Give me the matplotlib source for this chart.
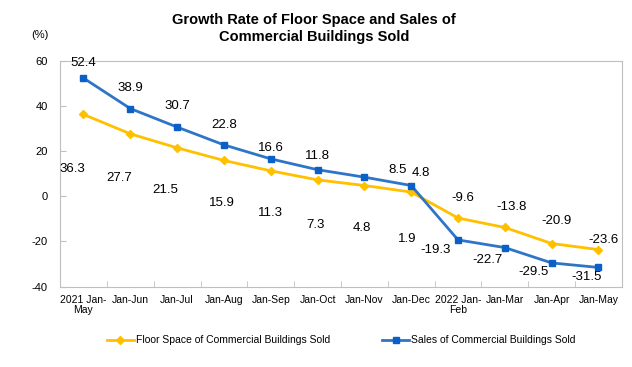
import matplotlib.pyplot as plt
import numpy as np

plt.rcParams['font.family'] = ['Liberation Sans', 'DejaVu Sans']
plt.rcParams['axes.unicode_minus'] = False

categories = ["2021 Jan-\nMay", "Jan-Jun", "Jan-Jul", "Jan-Aug", "Jan-Sep", "Jan-Oct",
              "Jan-Nov", "Jan-Dec", "2022 Jan-\nFeb", "Jan-Mar", "Jan-Apr", "Jan-May"]
floor_space = [36.3, 27.7, 21.5, 15.9, 11.3, 7.3, 4.8, 1.9, -9.6, -13.8, -20.9, -23.6]
sales = [52.4, 38.9, 30.7, 22.8, 16.6, 11.8, 8.5, 4.8, -19.3, -22.7, -29.5, -31.5]

# label offsets in pixels (dx, dy)
floor_off = [(-11, -55), (-11, -44), (-12, -42), (-2, -43), (0, -42), (-2, -45),
             (-2, -42), (-4, -47), (5, 20), (7, 20), (5, 23), (5, 10)]
sales_off = [(0, 15), (0, 21), (0, 21), (0, 20), (0, 11), (0, 14),
             (33, 7), (10, 13), (-22, -10), (-17, -12), (-18, -9), (-12, -10)]

yellow = '#FFC000'
blue = '#2E75C8'

fig = plt.figure(figsize=(6.32, 3.67), dpi=100)
ax = fig.add_axes([0.095, 0.219, 0.889, 0.615])
x = np.arange(len(categories))

ax.plot(x, floor_space, color=yellow, lw=2, marker='D', ms=4.5, mfc=yellow, mec=yellow,
        label='Floor Space of Commercial Buildings Sold')
ax.plot(x, sales, color=blue, lw=2, marker='s', ms=4.5, mfc='#0A5FC8', mec='#0A5FC8',
        label='Sales of Commercial Buildings Sold')

for i in range(len(x)):
    ax.annotate(f'{floor_space[i]}', (x[i], floor_space[i]), xytext=floor_off[i],
                textcoords='offset pixels', ha='center', va='center', fontsize=9.5)
    ax.annotate(f'{sales[i]}', (x[i], sales[i]), xytext=sales_off[i],
                textcoords='offset pixels', ha='center', va='center', fontsize=9.5)

ax.set_xlim(-0.5, len(categories) - 0.5)
ax.set_ylim(-40, 60)
ax.set_yticks([-40, -20, 0, 20, 40, 60])
ax.set_xticks(x)
ax.set_xticklabels(categories, fontsize=7.5, linespacing=1.0)
ax.set_xticks(np.arange(-0.5, len(categories), 1), minor=True)
ax.tick_params(axis='x', which='major', length=0, pad=6)
ax.tick_params(axis='x', which='minor', length=4, direction='in', color='#BFBFBF')
ax.tick_params(axis='y', length=4, direction='in', color='#BFBFBF', labelsize=8, pad=9)
for s in ax.spines.values():
    s.set_color('#BFBFBF')

fig.text(0.497, 0.965, 'Growth Rate of Floor Space and Sales of\nCommercial Buildings Sold',
         ha='center', va='top', fontsize=10.5, fontweight='bold', linespacing=1.3)
fig.text(0.063, 0.905, '(%)', ha='center', va='center', fontsize=8)

fig.legend(loc='center', bbox_to_anchor=(0.54, 0.073), ncol=2, frameon=False,
           fontsize=7.5, handlelength=2.6, handletextpad=0.2, columnspacing=5)

fig.savefig('out.png', dpi=100)
